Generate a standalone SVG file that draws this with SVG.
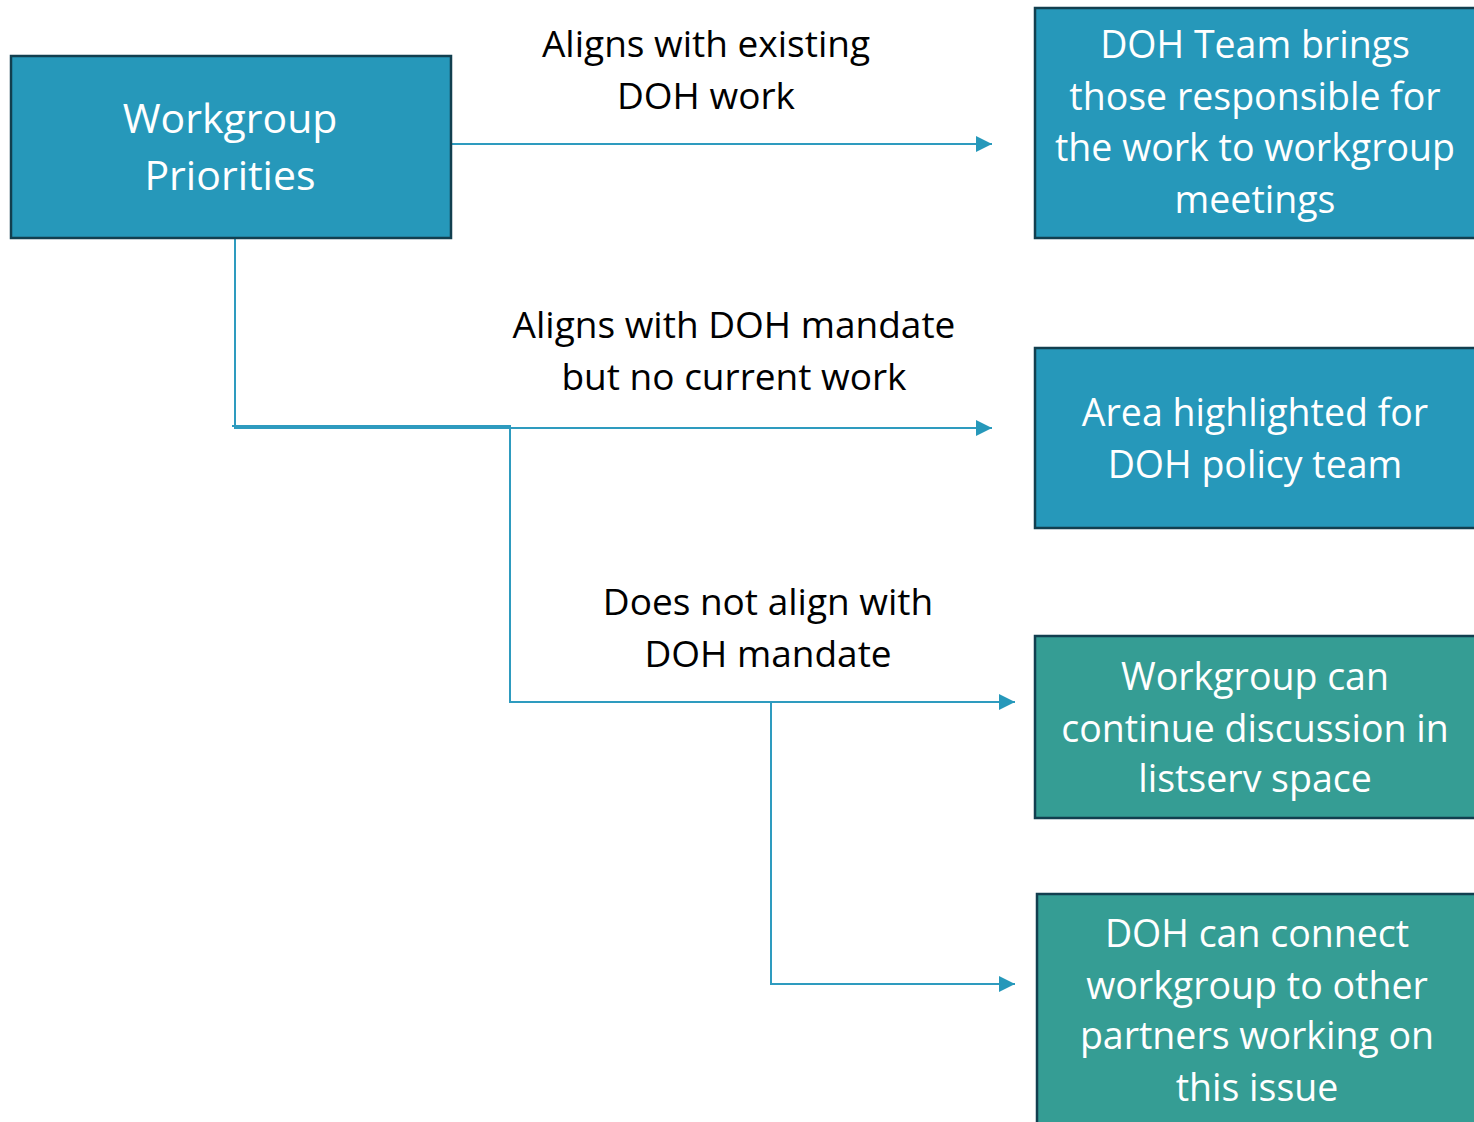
<svg xmlns="http://www.w3.org/2000/svg" width="1474" height="1122" viewBox="0 0 1474 1122">
<defs>
<style>
.box{stroke:#123f4f;stroke-width:2.5}
.blue{fill:#2698ba}
.teal{fill:#359d94}
.nt{font-family:"Open Sans","Noto Sans",sans-serif;fill:#ffffff;text-anchor:middle;font-size:37.5px}
.lb{font-family:"Open Sans","Noto Sans",sans-serif;fill:#000000;text-anchor:middle;font-size:37px}
.cn{fill:none;stroke:#2e9bbf;stroke-width:2}
</style>
<marker id="ah" markerWidth="16" markerHeight="16" refX="16" refY="8" viewBox="0 0 16 16" markerUnits="userSpaceOnUse" orient="auto">
<path d="M0,0 L16,8 L0,16 Z" fill="#2698ba"/>
</marker>
</defs>
<rect width="1474" height="1122" fill="#ffffff"/>
<g id="connectors">
<path class="cn" d="M452,144 H992" marker-end="url(#ah)"/>
<path class="cn" d="M235,238 V428 H992" marker-end="url(#ah)"/>
<path class="cn" d="M232,426 H510 V702 H1015" marker-end="url(#ah)"/>
<path class="cn" d="M771,702 V984 H1015" marker-end="url(#ah)"/>
</g>
<g id="labels">
<text class="lb" x="706" y="57">Aligns with existing</text>
<text class="lb" x="706" y="109">DOH work</text>
<text class="lb" x="734" y="338">Aligns with DOH mandate</text>
<text class="lb" x="734" y="390">but no current work</text>
<text class="lb" x="768" y="615">Does not align with</text>
<text class="lb" x="768" y="667">DOH mandate</text>
</g>
<g id="node-priorities">
<rect class="box blue" x="11" y="56" width="440" height="182"/>
<text class="nt" x="230" y="133" style="font-size:41px">Workgroup</text>
<text class="nt" x="230" y="190" style="font-size:41px">Priorities</text>
</g>
<g id="node-existing">
<rect class="box blue" x="1035" y="8" width="445" height="230"/>
<text class="nt" x="1255" y="58">DOH Team brings</text>
<text class="nt" x="1255" y="110">those responsible for</text>
<text class="nt" x="1255" y="161">the work to workgroup</text>
<text class="nt" x="1255" y="213">meetings</text>
</g>
<g id="node-policy">
<rect class="box blue" x="1035" y="348" width="445" height="180"/>
<text class="nt" x="1255" y="426">Area highlighted for</text>
<text class="nt" x="1255" y="478">DOH policy team</text>
</g>
<g id="node-listserv">
<rect class="box teal" x="1035" y="636" width="445" height="182"/>
<text class="nt" x="1255" y="690">Workgroup can</text>
<text class="nt" x="1255" y="742">continue discussion in</text>
<text class="nt" x="1255" y="792">listserv space</text>
</g>
<g id="node-partners">
<rect class="box teal" x="1037" y="894" width="445" height="240"/>
<text class="nt" x="1257" y="947">DOH can connect</text>
<text class="nt" x="1257" y="999">workgroup to other</text>
<text class="nt" x="1257" y="1049">partners working on</text>
<text class="nt" x="1257" y="1101">this issue</text>
</g>
</svg>
